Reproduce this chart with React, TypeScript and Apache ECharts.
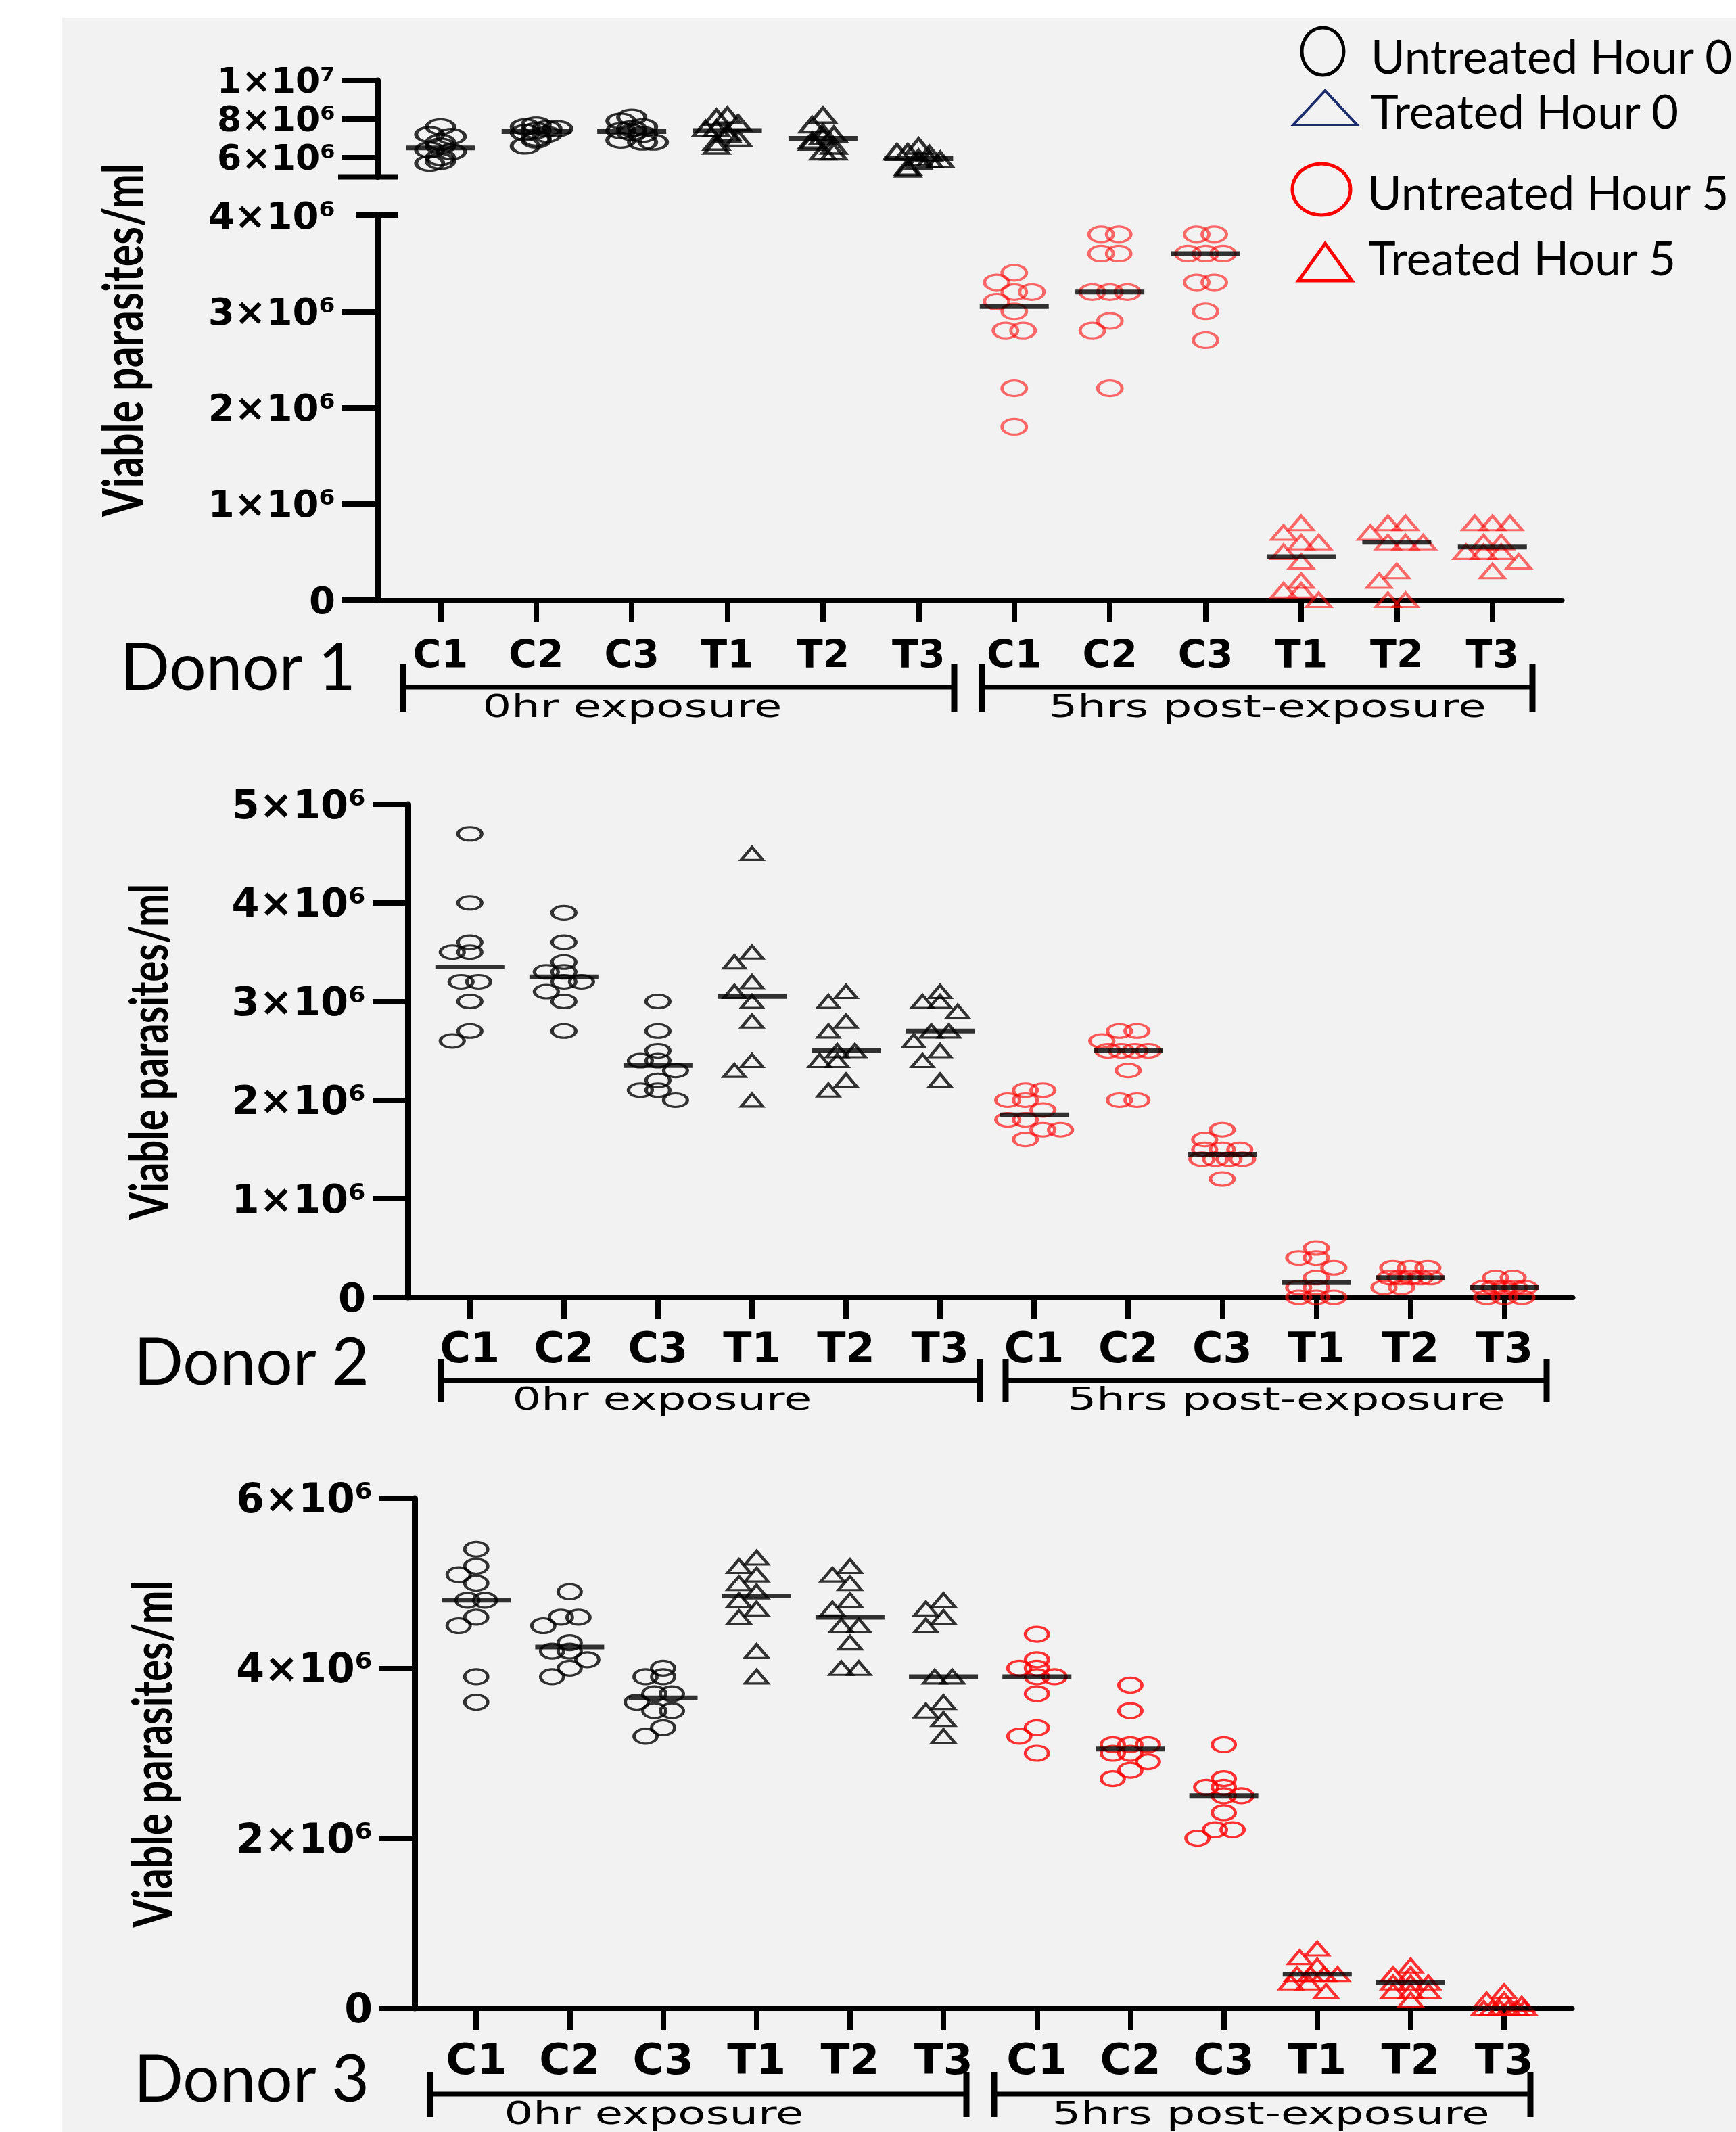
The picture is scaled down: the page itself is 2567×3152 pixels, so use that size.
import React, { useEffect, useRef } from 'react';
import * as echarts from 'echarts';

// ---------------- data (values in millions of viable parasites/ml) ----------------
const CATEGORIES = ['C1', 'C2', 'C3', 'T1', 'T2', 'T3', 'C1', 'C2', 'C3', 'T1', 'T2', 'T3'];
const UNIT = 1e6;

// Donor 1: groups C1, C2, C3, T1, T2, T3
const donor1Hour0 = [
  [7.6, 7.2, 7.1, 6.8, 6.6, 6.4, 6.3, 6.0, 5.8, 5.7],
  [7.7, 7.6, 7.5, 7.5, 7.4, 7.3, 7.2, 7.0, 6.9, 6.6],
  [8.1, 7.9, 7.6, 7.5, 7.4, 7.3, 7.2, 6.9, 6.8, 6.8],
  [8.2, 8.1, 7.8, 7.5, 7.5, 7.3, 7.2, 7.0, 6.8, 6.6],
  [8.2, 7.7, 7.3, 7.2, 7.1, 6.9, 6.8, 6.6, 6.3, 6.3],
  [6.6, 6.3, 6.3, 6.2, 6.0, 5.9, 5.9, 5.8, 5.5, 5.4],
];
const donor1Hour5 = [
  [3.4, 3.3, 3.2, 3.2, 3.1, 3.0, 2.8, 2.8, 2.2, 1.8],
  [3.8, 3.8, 3.6, 3.6, 3.2, 3.2, 3.2, 2.9, 2.8, 2.2],
  [3.8, 3.8, 3.6, 3.6, 3.6, 3.3, 3.3, 3.0, 2.7],
  [0.8, 0.7, 0.6, 0.6, 0.5, 0.4, 0.2, 0.1, 0.1, 0.0],
  [0.8, 0.8, 0.7, 0.6, 0.6, 0.6, 0.3, 0.2, 0.0, 0.0],
  [0.8, 0.8, 0.8, 0.6, 0.6, 0.5, 0.5, 0.5, 0.4, 0.3],
];
const donor1Medians = [6.5, 7.35, 7.35, 7.4, 7.0, 5.95, 3.05, 3.2, 3.6, 0.45, 0.6, 0.55];

// Donor 2
const donor2Hour0 = [
  [4.7, 4.0, 3.6, 3.5, 3.5, 3.2, 3.2, 3.0, 2.7, 2.6],
  [3.9, 3.6, 3.4, 3.3, 3.3, 3.2, 3.2, 3.1, 3.0, 2.7],
  [3.0, 2.7, 2.5, 2.4, 2.4, 2.3, 2.2, 2.1, 2.1, 2.0],
  [4.5, 3.5, 3.4, 3.2, 3.1, 3.0, 2.8, 2.4, 2.3, 2.0],
  [3.1, 3.0, 2.8, 2.7, 2.5, 2.5, 2.4, 2.4, 2.2, 2.1],
  [3.1, 3.0, 3.0, 2.9, 2.7, 2.7, 2.6, 2.5, 2.4, 2.2],
];
const donor2Hour5 = [
  [2.1, 2.1, 2.0, 2.0, 1.9, 1.8, 1.8, 1.7, 1.7, 1.6],
  [2.7, 2.7, 2.6, 2.5, 2.5, 2.5, 2.5, 2.3, 2.0, 2.0],
  [1.7, 1.6, 1.5, 1.5, 1.5, 1.4, 1.4, 1.4, 1.4, 1.2],
  [0.5, 0.4, 0.4, 0.3, 0.2, 0.1, 0.1, 0.0, 0.0, 0.0],
  [0.3, 0.3, 0.3, 0.2, 0.2, 0.2, 0.2, 0.2, 0.1, 0.1],
  [0.2, 0.2, 0.1, 0.1, 0.1, 0.1, 0.1, 0.0, 0.0, 0.0],
];
const donor2Medians = [3.35, 3.25, 2.35, 3.05, 2.5, 2.7, 1.85, 2.5, 1.45, 0.15, 0.2, 0.1];

// Donor 3
const donor3Hour0 = [
  [5.4, 5.2, 5.1, 5.0, 4.8, 4.8, 4.6, 4.5, 3.9, 3.6],
  [4.9, 4.6, 4.6, 4.5, 4.3, 4.2, 4.2, 4.1, 4.0, 3.9],
  [4.0, 3.9, 3.9, 3.7, 3.7, 3.6, 3.5, 3.5, 3.3, 3.2],
  [5.3, 5.2, 5.1, 5.0, 4.9, 4.8, 4.7, 4.6, 4.2, 3.9],
  [5.2, 5.1, 5.0, 4.8, 4.7, 4.5, 4.5, 4.3, 4.0, 4.0],
  [4.8, 4.7, 4.6, 4.5, 3.9, 3.9, 3.6, 3.5, 3.4, 3.2],
];
const donor3Hour5 = [
  [4.4, 4.1, 4.0, 4.0, 3.9, 3.9, 3.7, 3.3, 3.2, 3.0],
  [3.8, 3.5, 3.1, 3.1, 3.1, 3.0, 3.0, 2.9, 2.8, 2.7],
  [3.1, 2.7, 2.6, 2.6, 2.5, 2.5, 2.3, 2.1, 2.1, 2.0],
  [0.7, 0.6, 0.5, 0.4, 0.4, 0.4, 0.4, 0.3, 0.3, 0.2],
  [0.5, 0.4, 0.4, 0.3, 0.3, 0.3, 0.2, 0.2, 0.2, 0.1],
  [0.2, 0.1, 0.1, 0.05, 0.0, 0.0, 0.0, 0.0, 0.0, 0.0],
];
const donor3Medians = [4.8, 4.25, 3.65, 4.85, 4.6, 3.9, 3.9, 3.05, 2.5, 0.4, 0.3, 0.0];

// tick labels
const donor1UpperTicks = [6e6, 8e6, 1e7];
const donor1LowerTicks = [0, 1e6, 2e6, 3e6, 4e6];
const donor2Ticks = [0, 1e6, 2e6, 3e6, 4e6, 5e6];
const donor3Ticks = [0, 2e6, 4e6, 6e6];

const LEGEND_LABELS = ['Untreated Hour 0', 'Treated Hour 0', 'Untreated Hour 5', 'Treated Hour 5'];
const Y_TITLE = 'Viable parasites/ml';
const DONOR_LABELS = ['Donor 1', 'Donor 2', 'Donor 3'];
const PERIOD_LABELS = ['0hr exposure', '5hrs post-exposure'];

// ---------------- layout ----------------
const W = 2567;
const H = 3152;
const X_MIN = -0.66;
const X_MAX = 11.73;
const GRIDS = [
  { left: 558, top: 119, width: 1752, height: 142.5, min: 5e6, max: 1e7, ticks: donor1UpperTicks, tickMarks: donor1UpperTicks, font: 52, lineHeight: 50, catFont: 57, showX: false, catMargin: 50 },
  { left: 558, top: 318, width: 1752, height: 569, min: 0, max: 4e6, ticks: donor1LowerTicks, tickMarks: [0, 1e6, 2e6, 3e6], font: 56, lineHeight: 60, catFont: 57, showX: true, catMargin: 51 },
  { left: 603, top: 1189, width: 1723, height: 729, min: 0, max: 5e6, ticks: donor2Ticks, tickMarks: donor2Ticks, font: 59, lineHeight: 62, catFont: 62, showX: true, catMargin: 43 },
  { left: 613, top: 2215, width: 1712, height: 754, min: 0, max: 6e6, ticks: donor3Ticks, tickMarks: donor3Ticks, font: 60, lineHeight: 64, catFont: 63, showX: true, catMargin: 44 },
];

const CIRCLE = 'path://M0,1C0,0.4477 0.4477,0 1,0C1.5523,0 2,0.4477 2,1C2,1.5523 1.5523,2 1,2C0.4477,2 0,1.5523 0,1Z';

const SUP: Record<string, string> = { '0': '⁰', '1': '¹', '2': '²', '3': '³', '4': '⁴', '5': '⁵', '6': '⁶', '7': '⁷', '8': '⁸', '9': '⁹' };
function sciLabel(v: number): string {
  if (Math.abs(v) < 1e-9) return '0';
  const e = Math.floor(Math.log10(v) + 1e-9);
  const m = Math.round((v / Math.pow(10, e)) * 100) / 100;
  return `${m}×10${String(e).split('').map((c) => SUP[c]).join('')}`;
}

type SwarmOpts = { step: number; maxHalf: number; sameHalf: number; thr: number; minDx: number };

// beeswarm layout (pixel offsets): spread points of similar value sideways
function swarm(values: number[], pxPerUnit: number, o: SwarmOpts) {
  const uniq: { v: number; k: number }[] = [];
  [...values].sort((a, b) => b - a).forEach((v) => {
    const last = uniq[uniq.length - 1];
    if (last && Math.abs(last.v - v) < 1e-9) last.k++;
    else uniq.push({ v, k: 1 });
  });
  const placed: { x: number; v: number; y: number }[] = [];
  const h = o.step / 2;
  const shiftList = [0, -h, h, -2 * h, 2 * h, -3 * h, 3 * h];
  uniq.forEach(({ v, k }) => {
    const y = v * pxPerUnit;
    const s = k > 1 ? Math.min(o.step, (2 * o.sameHalf) / (k - 1)) : 0;
    const base = Array.from({ length: k }, (_, j) => j * s - ((k - 1) * s) / 2);
    const spread = ((k - 1) * s) / 2;
    const shifts = shiftList.filter((sh) => Math.abs(sh) + spread <= o.maxHalf + 0.01);
    let best = 0;
    let bestC = Infinity;
    for (const sh of shifts) {
      let c = 0;
      for (const b of base) for (const p of placed) if (Math.abs(p.x - (b + sh)) < o.minDx && Math.abs(p.y - y) < o.thr) c++;
      if (c < bestC) { bestC = c; best = sh; }
      if (c === 0) break;
    }
    base.forEach((b) => placed.push({ x: b + best, v, y }));
  });
  return placed;
}

function groupPoints(groups: number[][], offset: number, gridIdx: number, opts: SwarmOpts) {
  const g = GRIDS[gridIdx];
  const pxPerUnit = g.height / ((g.max - g.min) / UNIT);
  const catPx = g.width / (X_MAX - X_MIN);
  const out: number[][] = [];
  groups.forEach((vals, i) => {
    swarm(vals, pxPerUnit, opts).forEach((p) => {
      out.push([offset + i + p.x / catPx, p.v * UNIT]);
    });
  });
  return out;
}

const TIGHT: SwarmOpts = { step: 16, maxHalf: 34, sameHalf: 30, thr: 20, minDx: 14 };
const NORMAL: SwarmOpts = { step: 26, maxHalf: 40, sameHalf: 30, thr: 20, minDx: 20 };

const PANELS = [
  { hour0: donor1Hour0, hour5: donor1Hour5, medians: donor1Medians, grid0: 0, grid5: 1, red: 'rgba(255,0,0,0.72)', t5Symbol: 'triangle', sw0: TIGHT, sw5: NORMAL, c0: [40, 22], t0: [36, 22], c5: [36, 23], t5: [36, 21], bw0: 4.5 },
  { hour0: donor2Hour0, hour5: donor2Hour5, medians: donor2Medians, grid0: 2, grid5: 2, red: 'rgba(255,0,0,0.8)', t5Symbol: CIRCLE, sw0: NORMAL, sw5: NORMAL, c0: [35, 20], t0: [32, 19], c5: [35, 20], t5: [35, 20], bw0: 4 },
  { hour0: donor3Hour0, hour5: donor3Hour5, medians: donor3Medians, grid0: 3, grid5: 3, red: '#ff0000', t5Symbol: 'triangle', sw0: NORMAL, sw5: NORMAL, c0: [34, 22], t0: [34, 20], c5: [34, 22], t5: [34, 20], bw0: 4 },
];

function buildOption() {
  const grid = GRIDS.map((g) => ({ left: g.left, top: g.top, width: g.width, height: g.height, containLabel: false }));
  const xAxis = GRIDS.map((g, i) => ({
    type: 'value',
    gridIndex: i,
    min: X_MIN,
    max: X_MAX,
    show: g.showX,
    splitLine: { show: false },
    axisLine: { show: true, onZero: false, lineStyle: { color: '#000', width: 7 } },
    axisTick: { show: true, length: 32, lineStyle: { color: '#000', width: 8 }, customValues: CATEGORIES.map((_, k) => k) },
    axisLabel: {
      show: true,
      customValues: CATEGORIES.map((_, k) => k),
      formatter: (v: number) => CATEGORIES[Math.round(v)] ?? '',
      margin: g.catMargin,
      color: '#000',
      fontFamily: 'DejaVu Sans',
      fontWeight: 'bold',
      fontSize: g.catFont,
    },
  }));
  const yAxis = GRIDS.map((g, i) => ({
    type: 'value',
    gridIndex: i,
    min: g.min,
    max: g.max,
    splitLine: { show: false },
    axisLine: { show: true, onZero: false, lineStyle: { color: '#000', width: 9 } },
    axisTick: { show: true, length: 52, lineStyle: { color: '#000', width: 8 }, customValues: g.tickMarks },
    axisLabel: {
      show: true,
      customValues: g.ticks,
      formatter: (v: number) => sciLabel(v),
      margin: 62,
      color: '#000',
      fontFamily: 'DejaVu Sans',
      fontWeight: 'bold',
      fontSize: g.font,
      lineHeight: g.lineHeight,
    },
  }));

  const series: any[] = [];
  const base = { type: 'scatter', silent: true, emphasis: { disabled: true }, clip: false };
  PANELS.forEach((p) => {
    series.push({
      ...base, name: LEGEND_LABELS[0], xAxisIndex: p.grid0, yAxisIndex: p.grid0,
      symbol: CIRCLE, symbolSize: p.c0,
      itemStyle: { color: 'rgba(0,0,0,0)', borderColor: '#000', borderWidth: p.bw0 },
      data: groupPoints(p.hour0.slice(0, 3), 0, p.grid0, p.sw0),
    });
    series.push({
      ...base, name: LEGEND_LABELS[1], xAxisIndex: p.grid0, yAxisIndex: p.grid0,
      symbol: 'triangle', symbolSize: p.t0,
      itemStyle: { color: 'rgba(0,0,0,0)', borderColor: '#000', borderWidth: p.bw0 },
      data: groupPoints(p.hour0.slice(3, 6), 3, p.grid0, p.sw0),
    });
    series.push({
      ...base, name: LEGEND_LABELS[2], xAxisIndex: p.grid5, yAxisIndex: p.grid5,
      symbol: CIRCLE, symbolSize: p.c5,
      itemStyle: { color: 'rgba(0,0,0,0)', borderColor: p.red, borderWidth: 4 },
      data: groupPoints(p.hour5.slice(0, 3), 6, p.grid5, p.sw5),
    });
    series.push({
      ...base, name: LEGEND_LABELS[3], xAxisIndex: p.grid5, yAxisIndex: p.grid5,
      symbol: p.t5Symbol, symbolSize: p.t5,
      itemStyle: { color: 'rgba(0,0,0,0)', borderColor: p.red, borderWidth: 4 },
      data: groupPoints(p.hour5.slice(3, 6), 9, p.grid5, p.sw5),
    });
    const med0 = p.medians.slice(0, 6).map((m, i) => [i, m * UNIT]);
    const med5 = p.medians.slice(6).map((m, i) => [i + 6, m * UNIT]);
    const medStyle = { symbol: 'rect', symbolSize: [102, 7], itemStyle: { color: '#000' }, z: 5 };
    if (p.grid0 === p.grid5) {
      series.push({ ...base, ...medStyle, name: 'Median', xAxisIndex: p.grid0, yAxisIndex: p.grid0, data: [...med0, ...med5] });
    } else {
      series.push({ ...base, ...medStyle, name: 'Median', xAxisIndex: p.grid0, yAxisIndex: p.grid0, data: med0 });
      series.push({ ...base, ...medStyle, name: 'Median', xAxisIndex: p.grid5, yAxisIndex: p.grid5, data: med5 });
    }
  });

  // ---------------- decorations ----------------
  const graphic: any[] = [];
  const line = (x1: number, y1: number, x2: number, y2: number, w: number, color = '#000') =>
    graphic.push({ type: 'line', silent: true, shape: { x1, y1, x2, y2 }, style: { stroke: color, lineWidth: w } });
  const text = (t: string, x: number, y: number, o: any) =>
    graphic.push({
      type: 'text', silent: true, x, y, rotation: o.rotation ?? 0, scaleX: o.scaleX ?? 1, scaleY: o.scaleY ?? 1,
      style: {
        text: t, fill: '#000', fontFamily: o.family, fontWeight: o.weight ?? 'normal', fontSize: o.size,
        align: o.align ?? 'center', verticalAlign: 'middle', textAlign: o.align ?? 'center', textVerticalAlign: 'middle',
      },
    });

  // axis break marks (donor 1)
  const up = GRIDS[0];
  const lo = GRIDS[1];
  line(500, up.top + up.height, 589, up.top + up.height, 8);
  line(527, lo.top, 589, lo.top, 8);

  // y titles
  text(Y_TITLE, 179, 503, { family: 'Lato', weight: 'bold', size: 61, rotation: Math.PI / 2, scaleY: 1.35 });
  text(Y_TITLE, 218, 1555, { family: 'Lato', weight: 'bold', size: 58, rotation: Math.PI / 2, scaleY: 1.35 });
  text(Y_TITLE, 223, 2593, { family: 'Lato', weight: 'bold', size: 60, rotation: Math.PI / 2, scaleY: 1.35 });

  // donor labels
  text(DONOR_LABELS[0], 352, 982, { family: 'Lato', size: 96 });
  text(DONOR_LABELS[1], 372, 2009, { family: 'Lato', size: 96 });
  text(DONOR_LABELS[2], 372, 3069, { family: 'Lato', size: 96 });

  // period brackets
  const brackets = [
    { y: 1016, c1: 982, c2: 1052, s1: [596, 1411], s2: [1452, 2266], ty: 1044, tx: [935, 1874] },
    { y: 2041, c1: 2009, c2: 2073, s1: [652, 1449], s2: [1487, 2287], ty: 2068, tx: [979, 1902] },
    { y: 3096, c1: 3063, c2: 3130, s1: [636, 1429], s2: [1470, 2263], ty: 3124, tx: [967, 1879] },
  ];
  brackets.forEach((b) => {
    [b.s1, b.s2].forEach((s) => {
      line(s[0], b.y, s[1], b.y, 7);
      line(s[0], b.c1, s[0], b.c2, 9);
      line(s[1], b.c1, s[1], b.c2, 9);
    });
    text(PERIOD_LABELS[0], b.tx[0], b.ty, { family: 'DejaVu Sans', size: 46, scaleX: 1.46 });
    text(PERIOD_LABELS[1], b.tx[1], b.ty, { family: 'DejaVu Sans', size: 46, scaleX: 1.46 });
  });

  // legend
  graphic.push({ type: 'ellipse', silent: true, shape: { cx: 1956, cy: 76, rx: 31, ry: 35 }, style: { fill: 'none', stroke: '#000', lineWidth: 5 } });
  graphic.push({ type: 'polygon', silent: true, shape: { points: [[1912, 185], [1959.5, 134], [2007, 185]] }, style: { fill: 'none', stroke: '#1c2c6c', lineWidth: 4 } });
  graphic.push({ type: 'ellipse', silent: true, shape: { cx: 1954, cy: 280, rx: 43, ry: 38 }, style: { fill: 'none', stroke: '#ff0000', lineWidth: 5 } });
  graphic.push({ type: 'polygon', silent: true, shape: { points: [[1920, 415], [1959.5, 360], [1999, 415]] }, style: { fill: 'none', stroke: '#ff0000', lineWidth: 5 } });
  text(LEGEND_LABELS[0], 2027, 82, { family: 'Lato', size: 69, align: 'left' });
  text(LEGEND_LABELS[1], 2027, 163, { family: 'Lato', size: 69, align: 'left' });
  text(LEGEND_LABELS[2], 2022, 283, { family: 'Lato', size: 69, align: 'left' });
  text(LEGEND_LABELS[3], 2023, 380, { family: 'Lato', size: 69, align: 'left' });

  return { animation: false, backgroundColor: 'transparent', grid, xAxis, yAxis, series, graphic };
}

export default function App() {
  const ref = useRef<HTMLDivElement>(null);
  useEffect(() => {
    if (!ref.current) return;
    const chart = echarts.init(ref.current, undefined, { renderer: 'svg', width: W, height: H });
    chart.setOption(buildOption() as any);
    return () => chart.dispose();
  }, []);
  return (
    <div style={{ position: 'absolute', left: 0, top: 0, width: W, height: H, background: '#ffffff', overflow: 'hidden' }}>
      <div style={{ position: 'absolute', left: 92, top: 26, width: W - 92, height: H - 26, background: '#f2f2f2' }} />
      <div ref={ref} style={{ position: 'absolute', left: 0, top: 0, width: W, height: H }} />
    </div>
  );
}
